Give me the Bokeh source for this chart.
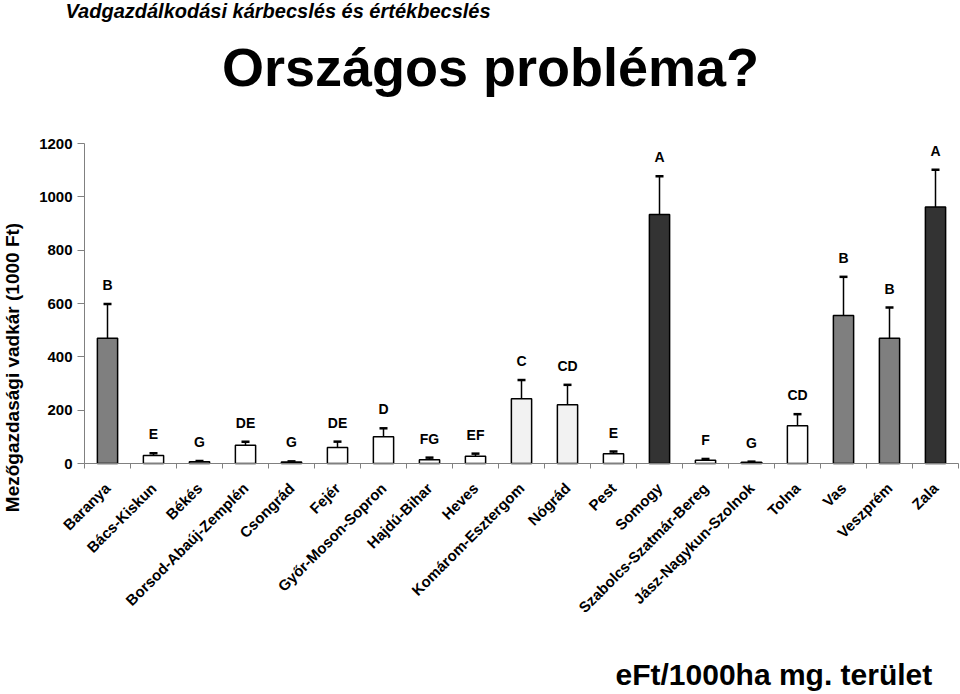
from math import pi
from bokeh.plotting import figure
from bokeh.models import (Range1d, LinearAxis, FixedTicker,
                          Whisker, TeeHead, ColumnDataSource, Label)
from bokeh.core.properties import value
from bokeh.embed import file_html
from bokeh.resources import INLINE

counties = ["Baranya", "Bács-Kiskun", "Békés", "Borsod-Abaúj-Zemplén", "Csongrád", "Fejér",
            "Győr-Moson-Sopron", "Hajdú-Bihar", "Heves", "Komárom-Esztergom", "Nógrád", "Pest",
            "Somogy", "Szabolcs-Szatmár-Bereg", "Jász-Nagykun-Szolnok", "Tolna", "Vas",
            "Veszprém", "Zala"]
means = [470, 30, 7, 68, 6, 60, 100, 14, 27, 243, 220, 37, 934, 12, 5, 142, 555, 470, 962]
errors = [128, 8, 2, 14, 2, 22, 32, 8, 10, 70, 75, 8, 143, 5, 2, 43, 145, 115, 140]
letters = ["B", "E", "G", "DE", "G", "DE", "D", "FG", "EF", "C", "CD", "E", "A", "F", "G",
           "CD", "B", "B", "A"]
shades = ["mid", "white", "white", "white", "white", "white", "white", "white", "white",
          "light", "light", "white", "dark", "white", "white", "white", "mid", "mid", "dark"]
y_ticks = [0, 200, 400, 600, 800, 1000, 1200]
y_max = 1200

shade_colors = {"white": "#ffffff", "light": "#f2f2f2", "mid": "#7f7f7f", "dark": "#333333"}
FONT = value("Liberation Sans")

# ---- page geometry (pixels) ----
W, H = 960, 694
AX_LEFT, AX_TOP, AX_BOTTOM = 84, 143, 463   # plot box edges
CAT_PX = 46                                 # width of one category slot

n = len(counties)
pos = list(range(1, n + 1))  # category index positions

# map the whole canvas onto data space so the axes sit at the plot-box edges
x_lo = 0.5 - AX_LEFT / CAT_PX
x_hi = 0.5 + (W - AX_LEFT) / CAT_PX
u_per_px = y_max / (AX_BOTTOM - AX_TOP)
y_lo = -(H - AX_BOTTOM) * u_per_px
y_hi = y_max + AX_TOP * u_per_px

src = ColumnDataSource(dict(
    x=pos, top=means,
    upper=[m + e for m, e in zip(means, errors)],
    letter=letters,
    color=[shade_colors[s] for s in shades],
))

p = figure(width=W, height=H,
           x_range=Range1d(x_lo, x_hi), y_range=Range1d(y_lo, y_hi),
           output_backend="svg", toolbar_location=None,
           x_axis_location=None, y_axis_location=None,
           min_border_left=0, min_border_right=0, min_border_top=0, min_border_bottom=0)
p.outline_line_color = None
p.xgrid.visible = False
p.ygrid.visible = False
p.background_fill_color = "white"
p.border_fill_color = "white"

yax = LinearAxis(fixed_location=0.5, bounds=(0, y_max),
                 ticker=FixedTicker(ticks=y_ticks),
                 major_tick_out=7, major_tick_in=0, minor_tick_out=0, minor_tick_in=0,
                 axis_line_color="#808080", major_tick_line_color="#808080",
                 major_label_text_font="Liberation Sans",
                 major_label_text_font_style="bold",
                 major_label_text_font_size="15px",
                 major_label_text_color="black",
                 major_label_standoff=5)
p.add_layout(yax, "left")

# category names at bar centres, boundary ticks as minor ticks (Excel style)
cat_axis = LinearAxis(fixed_location=0, bounds=(0.5, n + 0.5),
                      ticker=FixedTicker(ticks=pos, minor_ticks=[k + 0.5 for k in range(n + 1)]),
                      major_label_overrides={i: c for i, c in zip(pos, counties)},
                      axis_line_color="#808080", major_tick_line_color=None,
                      major_tick_out=0, major_tick_in=0,
                      minor_tick_line_color="#808080", minor_tick_out=5, minor_tick_in=0,
                      major_label_orientation=pi / 4,
                      major_label_text_font="Liberation Sans",
                      major_label_text_font_style="bold",
                      major_label_text_font_size="15px",
                      major_label_text_color="black",
                      major_label_standoff=17)
p.add_layout(cat_axis, "below")

p.vbar(x="x", top="top", width=0.44, bottom=0, source=src,
       fill_color="color", line_color="black", line_width=1.5)

wh = Whisker(base="x", lower="top", upper="upper", source=src, dimension="height",
             lower_head=None,
             upper_head=TeeHead(size=8, line_width=2.5, line_color="black"),
             line_width=1.5, line_color="black")
p.add_layout(wh)

p.text(x="x", y="upper", text="letter", source=src, text_align="center",
       text_baseline="bottom", y_offset=-11, text_font=FONT, text_font_style="bold",
       text_font_size="14px", text_color="black")


def lab(x, y_from_top, text, size, style="bold", align="left", angle=0.0,
        baseline="alphabetic"):
    p.add_layout(Label(x=x, y=H - y_from_top, x_units="screen", y_units="screen", text=text,
                       text_font="Liberation Sans", text_font_style=style,
                       text_font_size=size, text_align=align, text_baseline=baseline,
                       angle=angle, text_color="black"))


lab(65, 10, "Vadgazdálkodási kárbecslés és értékbecslés", "20px", style="bold italic")
lab(490, 66, "Országos probléma?", "54px", align="center")
lab(615, 674, "eFt/1000ha mg. terület", "30px")
lab(12, 367, "Mezőgazdasági vadkár (1000 Ft)", "19px", align="center", angle=pi / 2,
    baseline="middle")

open("out.html", "w").write(file_html(p, INLINE))
